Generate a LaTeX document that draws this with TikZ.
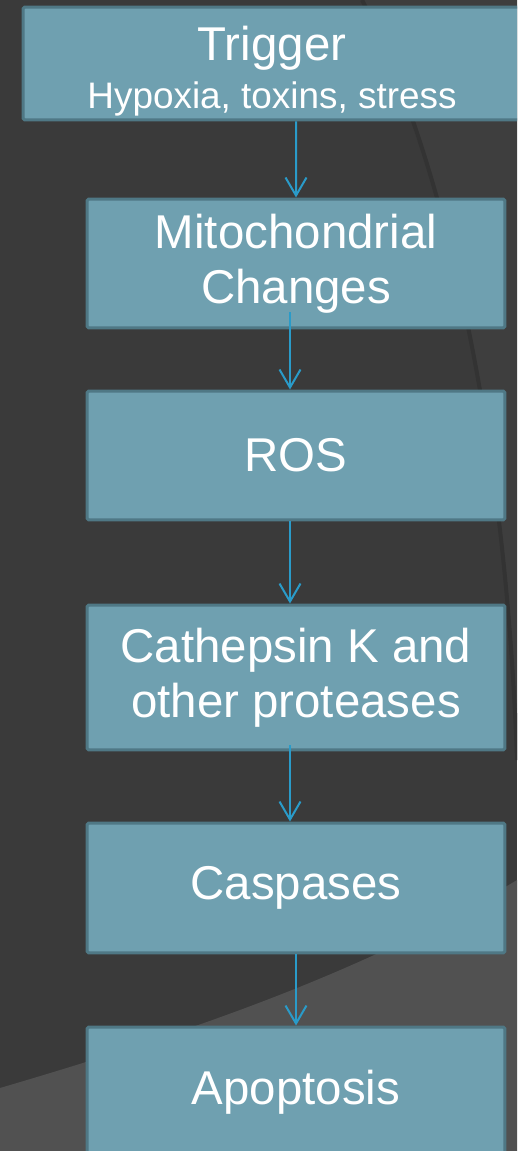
\documentclass[tikz,border=0pt]{standalone}
\usepackage{fontspec}
\setmainfont{Liberation Sans}
\usetikzlibrary{arrows.meta, positioning}
\definecolor{bgdark}{HTML}{3A3A3A}
\definecolor{bgshade}{HTML}{3E3E3E}
\definecolor{bgline}{HTML}{333333}
\definecolor{bglight}{HTML}{515151}
\definecolor{boxfill}{HTML}{6FA0B0}
\definecolor{boxedge}{HTML}{4F7885}
\definecolor{flowblue}{HTML}{2A9BC9}
\tikzset{
    x=0.02cm, y=-0.02cm,
    box/.style={draw=boxedge, fill=boxfill, line width=0.06cm, rounded corners=1pt,
        text=white, align=center, inner sep=0pt, minimum width=8.36cm,
        minimum height=2.58cm, font=\fontsize{27}{31.6}\selectfont},
    flow/.style={draw=flowblue, line width=0.04cm,
        -{Straight Barb[length=0.36cm, width=0.42cm]}}
}

\begin{document}
\begin{tikzpicture}
    % page and background
    \useasboundingbox (0,0) rectangle (517,1151);
    \clip (0,0) rectangle (517,1151);
    \fill[bgdark] (0,0) rectangle (517,1151);
    \fill[bgshade] (362,0) .. controls (440,150) and (505,420) .. (517,760) -- (517,0) -- cycle;
    \draw[bgline, line width=0.08cm] (362,0) .. controls (440,150) and (505,420) .. (517,760);
    \fill[bglight] (0,1151) -- (0,1088) .. controls (180,1035) and (360,975) .. (517,880) -- (517,1151) -- cycle;

    % steps
    \node[box, minimum width=9.96cm, minimum height=2.26cm] (trig) at (272,63.5)
        {\rule{0pt}{1.0cm}Trigger\\[-0.15cm]{\fontsize{21}{25}\selectfont Hypoxia, toxins, stress}};
    \node[box] (mito) at (296,263.5) {Mitochondrial\\Changes};
    \node[box] (ros) at (296,455.5) {ROS};
    \node[box, minimum height=2.9cm] (cath) at (296,677.5) {Cathepsin K and\\other proteases};
    \node[box, minimum height=2.6cm] (casp) at (296,888) {Caspases};
    \node[box, minimum height=2.6cm] (apop) at (296,1092) {Apoptosis};

    % arrows
    \draw[flow] ([xshift=0.48cm]trig.south) -- (mito.north);
    \draw[flow] ([xshift=-0.12cm, yshift=0.34cm]mito.south) -- ([xshift=-0.12cm]ros.north);
    \draw[flow] ([xshift=-0.12cm]ros.south) -- ([xshift=-0.12cm]cath.north);
    \draw[flow] ([xshift=-0.12cm, yshift=0.12cm]cath.south) -- ([xshift=-0.12cm]casp.north);
    \draw[flow] (casp.south) -- (apop.north);
\end{tikzpicture}
\end{document}
